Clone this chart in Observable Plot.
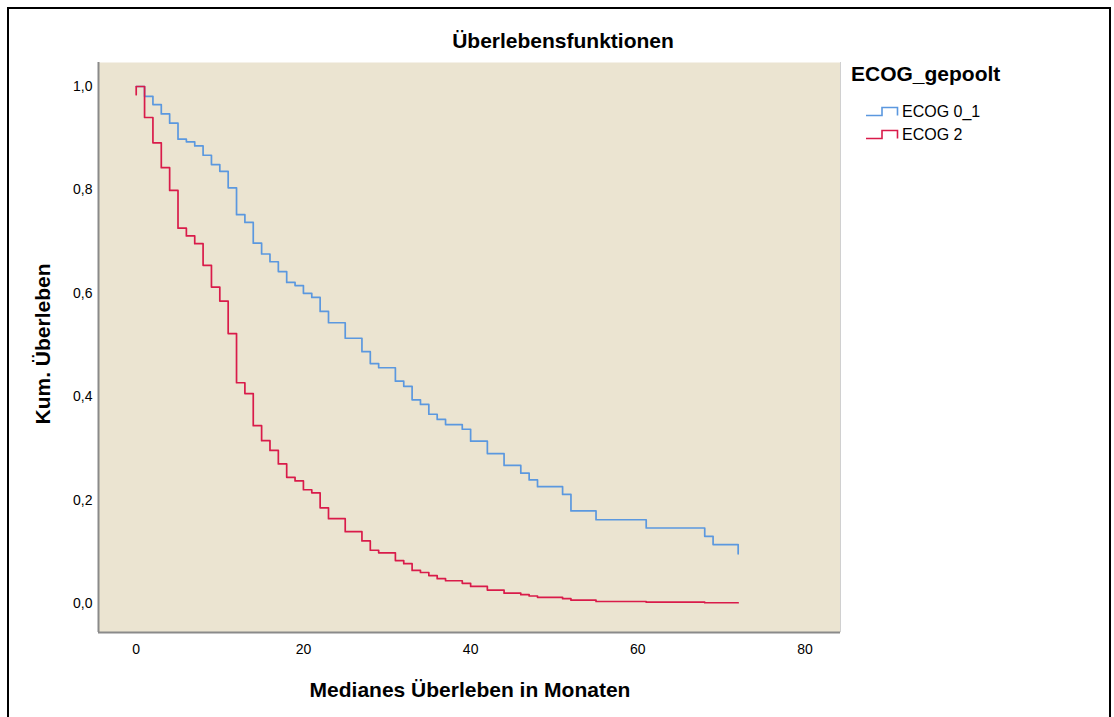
<!DOCTYPE html>
<html>
<head>
<meta charset="utf-8">
<script src="https://cdn.jsdelivr.net/npm/d3@7"></script>
<script src="https://cdn.jsdelivr.net/npm/@observablehq/plot@0.6"></script>
<style>
  html, body { margin: 0; padding: 0; background: #fff; overflow: hidden; }
  body { width: 1114px; height: 717px; position: relative; font-family: "Liberation Sans", Arial, sans-serif; }
  #border { position: absolute; left: 7px; top: 7px; width: 1100px; height: 760px; border: 2px solid #000; box-sizing: content-box; }
  #chart { position: absolute; left: 0; top: 0; }
  .lbl { position: absolute; white-space: nowrap; color: #000; transform: translate(-50%, -50%); }
  .bold { font-weight: bold; font-size: 21px; }
  #ylabel { transform: translate(-50%, -50%) rotate(-90deg); }
  #legend { position: absolute; left: 851px; top: 62px; }
  .legtitle { position: absolute; left: 0; top: 0; font-weight: bold; font-size: 21px; white-space: nowrap; }
  .item { position: absolute; left: 15px; height: 20px; white-space: nowrap; font-size: 16px; }
  .item svg { position: absolute; left: 0; top: 3px; }
  .item span { position: absolute; left: 36px; top: 0; line-height: 18px; }
</style>
</head>
<body>
<div id="border"></div>
<div id="chart"></div>
<div class="lbl bold" style="left:563px; top:41px;">Überlebensfunktionen</div>
<div class="lbl bold" style="left:470px; top:690px;">Medianes Überleben in Monaten</div>
<div id="ylabel" class="lbl bold" style="left:43px; top:344px;">Kum. Überleben</div>
<div id="legend"></div>
<script>
// ---- data ----
const groups = ["ECOG 0_1", "ECOG 2"];
const colors = ["#5B98DF", "#D91B4A"];

const blueTimes = [0, 1, 2, 3, 4, 5, 6, 7, 8, 9, 10, 11, 12, 13, 14, 15, 16, 17, 18, 19, 20, 21, 22, 23,
  25, 27, 28, 29, 31, 32, 33, 34, 35, 36, 37, 39, 40, 42, 44, 46, 47, 48, 51, 52, 55, 61, 68, 69, 72];
const blueSurv = [1.0, 0.981, 0.965, 0.947, 0.929, 0.898, 0.893, 0.885, 0.867, 0.849, 0.836, 0.804, 0.752, 0.737,
  0.697, 0.676, 0.661, 0.642, 0.621, 0.615, 0.600, 0.592, 0.565, 0.543,
  0.513, 0.487, 0.464, 0.456, 0.430, 0.420, 0.394, 0.385, 0.366, 0.356, 0.346, 0.337, 0.314, 0.290,
  0.267, 0.252, 0.239, 0.226, 0.211, 0.179, 0.162, 0.146, 0.130, 0.114, 0.096];

const redTimes = [0, 0, 1, 2, 3, 4, 5, 6, 7, 8, 9, 10, 11, 12, 13, 14, 15, 16, 17, 18, 19, 20, 21, 22, 23,
  25, 27, 28, 29, 31, 32, 33, 34, 35, 36, 37, 39, 40, 42, 44, 46, 47, 48, 51, 52, 55, 61, 68, 72];
const redSurv = [0.984, 1.0, 0.940, 0.891, 0.843, 0.799, 0.726, 0.711, 0.696, 0.654, 0.612, 0.585, 0.522, 0.427,
  0.406, 0.344, 0.315, 0.296, 0.270, 0.244, 0.237, 0.220, 0.214, 0.185, 0.164,
  0.139, 0.121, 0.103, 0.098, 0.083, 0.077, 0.064, 0.060, 0.054, 0.048, 0.044, 0.039, 0.033, 0.026,
  0.020, 0.017, 0.0145, 0.012, 0.0093, 0.0064, 0.0039, 0.0025, 0.0014, 0.0014];

const xTicks = [0, 20, 40, 60, 80];
const yTicks = [0, 0.2, 0.4, 0.6, 0.8, 1.0];
const xDomain = [-4.51, 84.24];
const yDomain = [-0.0561, 1.0464];

// ---- build table ----
const rows = [];
blueTimes.forEach((t, i) => rows.push({group: groups[0], t, s: blueSurv[i], i}));
redTimes.forEach((t, i) => rows.push({group: groups[1], t, s: redSurv[i], i}));

const fmt = d => d.toFixed(1).replace(".", ",");

const plot = Plot.plot({
  width: 1114,
  height: 717,
  marginLeft: 98,
  marginRight: 274,
  marginTop: 62,
  marginBottom: 85,
  style: {background: "transparent", fontFamily: "'Liberation Sans', Arial, sans-serif", fontSize: "14px", color: "#000", overflow: "visible"},
  x: {domain: xDomain, ticks: xTicks, tickSize: 0, tickPadding: 12, label: null, tickFormat: d => String(d)},
  y: {domain: yDomain, ticks: yTicks, tickSize: 0, tickPadding: 6, label: null, tickFormat: fmt},
  color: {domain: groups, range: colors},
  marks: [
    Plot.frame({fill: "#EBE4D1", stroke: "none"}),
    Plot.ruleX([xDomain[1]], {stroke: "#d0d0d0", strokeWidth: 1}),
    Plot.ruleX([xDomain[0]], {stroke: "#8a8a8a", strokeWidth: 2}),
    Plot.ruleY([yDomain[0]], {stroke: "#8a8a8a", strokeWidth: 2}),
    Plot.line(rows, {x: "t", y: "s", z: "group", stroke: "group", curve: "step-after", strokeWidth: 1.7, sort: null})
  ]
});
document.getElementById("chart").appendChild(plot);

// ---- legend ----
const legend = document.getElementById("legend");
const lt = document.createElement("div");
lt.className = "legtitle";
lt.textContent = "ECOG_gepoolt";
legend.appendChild(lt);
groups.forEach((g, k) => {
  const it = document.createElement("div");
  it.className = "item";
  it.style.top = (41 + k * 23) + "px";
  it.innerHTML = `<svg width="33" height="11"><path d="M0,9.5 H16 V1.5 H31.5 V9.5" fill="none" stroke="${colors[k]}" stroke-width="1.6"/></svg><span>${g}</span>`;
  legend.appendChild(it);
});
</script>
</body>
</html>
